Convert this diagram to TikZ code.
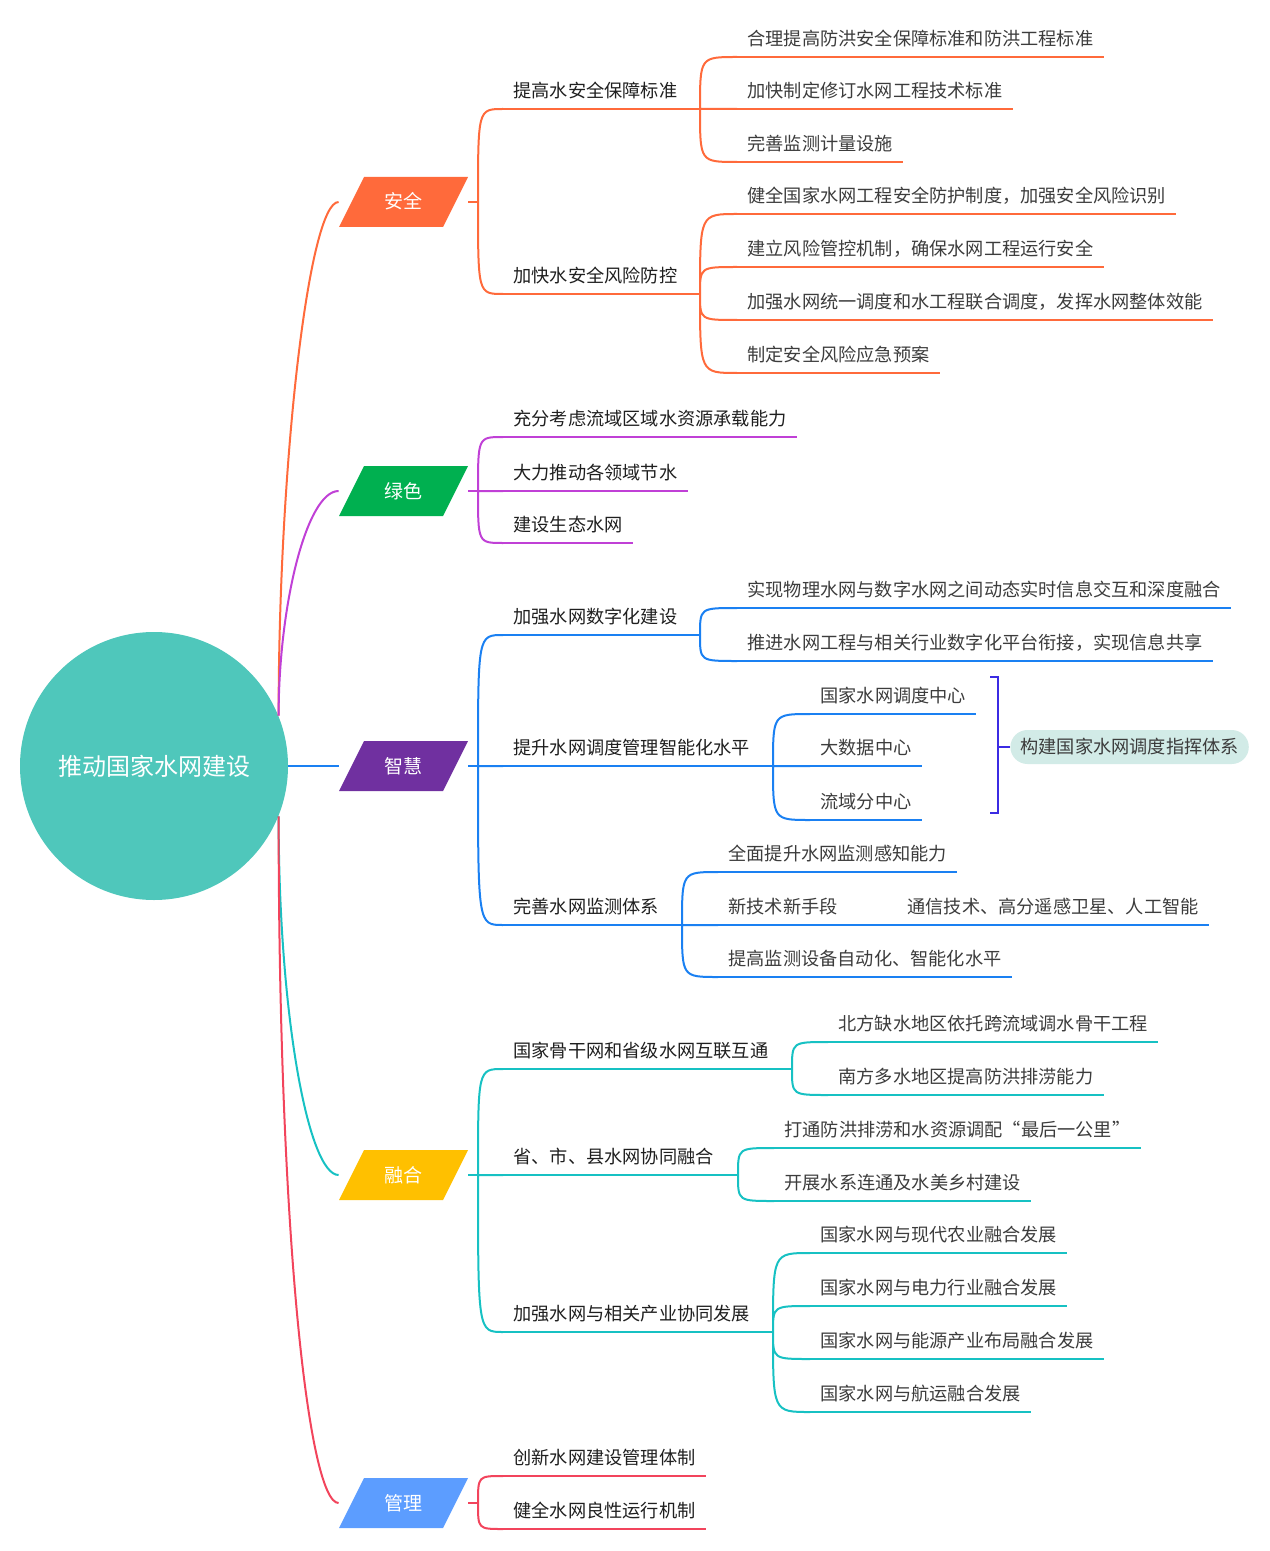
\documentclass[tikz,border=0pt]{standalone}
\usepackage{fontspec}
\setmainfont{Noto Sans CJK SC}

\definecolor{rootcol}{HTML}{4FC7BB}
\definecolor{aqcol}{HTML}{FF6A3B}
\definecolor{lsfill}{HTML}{00B050}
\definecolor{lsline}{HTML}{C040D6}
\definecolor{zhfill}{HTML}{7030A0}
\definecolor{zhline}{HTML}{1A80F2}
\definecolor{rhfill}{HTML}{FFC000}
\definecolor{rhline}{HTML}{17C1C3}
\definecolor{glfill}{HTML}{5C9DFF}
\definecolor{glline}{HTML}{F2445C}
\definecolor{brkcol}{HTML}{3B2BE3}
\definecolor{sumcol}{HTML}{D2EBE7}
\definecolor{leaftxt}{HTML}{3C3C3C}

\tikzset{
  root/.style={circle, fill=rootcol, minimum size=134pt, inner sep=0pt, text=white,
    text height=10pt, text depth=0.9pt, font=\fontsize{12pt}{14pt}\selectfont},
  cat/.style={minimum width=64.5pt, minimum height=25pt, inner sep=0pt, fill=white, text=white,
    text height=7.8pt, text depth=0.8pt, font=\fontsize{9.5pt}{11pt}\selectfont,
    path picture={\fill[#1] ([xshift=12.5pt]path picture bounding box.north west)
      -- (path picture bounding box.north east)
      -- ([xshift=-12.5pt]path picture bounding box.south east)
      -- (path picture bounding box.south west) -- cycle;}},
  sub/.style={anchor=south west, inner xsep=5pt, inner ysep=5.5pt, text height=7pt, text depth=0pt,
    text=black!88, font=\fontsize{9.1pt}{11pt}\selectfont},
  leaf/.style={sub, text=leaftxt},
  sumbox/.style={anchor=west, fill=sumcol, rounded corners=8.5pt, minimum height=17pt, inner xsep=5pt,
    text height=7.5pt, text depth=0.6pt, text=leaftxt, font=\fontsize{9.1pt}{11pt}\selectfont},
  link/.style={line width=1pt, to path={.. controls (\tikztostart |- \tikztotarget) .. (\tikztotarget)}},
  uline/.style={line width=1pt},
  brk/.style={line width=1pt, brkcol},
}

\begin{document}
\begin{tikzpicture}[x=0.5pt, y=-0.5pt]
\useasboundingbox (0,0) rectangle (1269,1551);

% centre and main branches
\node[root] (root) at (154,766) {推动国家水网建设};
\node[cat=aqcol] (aq) at (403.5,202) {安全};
\node[cat=lsfill] (ls) at (403.5,491) {绿色};
\node[cat=zhfill] (zh) at (403.5,766) {智慧};
\node[cat=rhfill] (rh) at (403.5,1175) {融合};
\node[cat=glfill] (gl) at (403.5,1503) {管理};

\draw[uline, aqcol] (root.22) .. controls +(0,-250) and +(-30,0) .. (aq.west);
\draw[uline, lsline] (root.22) .. controls +(0,-110) and +(-32,0) .. (ls.west);
\draw[uline, zhline] (root.east) -- (zh.west);
\draw[uline, rhline] (root.-22) .. controls +(0,200) and +(-30,0) .. (rh.west);
\draw[uline, glline] (root.-22) .. controls +(0,420) and +(-30,0) .. (gl.west);

% anquan
\coordinate (aqf) at (478,202);
\coordinate (aq1f) at (700,109);
\coordinate (aq2f) at (700,294);
\node[sub] (aq1) at (503,109) {提高水安全保障标准};
\node[sub] (aq2) at (503,294) {加快水安全风险防控};
\node[leaf] (aq11) at (737,57) {合理提高防洪安全保障标准和防洪工程标准};
\node[leaf] (aq12) at (737,109) {加快制定修订水网工程技术标准};
\node[leaf] (aq13) at (737,162) {完善监测计量设施};
\node[leaf] (aq21) at (737,214) {健全国家水网工程安全防护制度，加强安全风险识别};
\node[leaf] (aq22) at (737,267) {建立风险管控机制，确保水网工程运行安全};
\node[leaf] (aq23) at (737,320) {加强水网统一调度和水工程联合调度，发挥水网整体效能};
\node[leaf] (aq24) at (737,373) {制定安全风险应急预案};

\draw[uline, aqcol] (aq.east) -- (aqf);
\draw[link, aqcol] (aqf) to (aq1.south west) (aqf) to (aq2.south west);
\draw[uline, aqcol] (aq1.south west) -- (aq1f) (aq2.south west) -- (aq2f);
\draw[link, aqcol] (aq1f) to (aq11.south west) (aq1f) to (aq12.south west) (aq1f) to (aq13.south west);
\draw[link, aqcol] (aq2f) to (aq21.south west) (aq2f) to (aq22.south west)
  (aq2f) to (aq23.south west) (aq2f) to (aq24.south west);
\foreach \n in {aq11,aq12,aq13,aq21,aq22,aq23,aq24}
  \draw[uline, aqcol] (\n.south west) -- (\n.south east);

% lvse
\coordinate (lsf) at (478,491);
\node[sub] (ls1) at (503,437) {充分考虑流域区域水资源承载能力};
\node[sub] (ls2) at (503,491) {大力推动各领域节水};
\node[sub] (ls3) at (503,543) {建设生态水网};

\draw[uline, lsline] (ls.east) -- (lsf);
\draw[link, lsline] (lsf) to (ls1.south west) (lsf) to (ls2.south west) (lsf) to (ls3.south west);
\foreach \n in {ls1,ls2,ls3}
  \draw[uline, lsline] (\n.south west) -- (\n.south east);

% zhihui
\coordinate (zhf) at (478,766);
\coordinate (zh1f) at (700,635);
\coordinate (zh2f) at (773,766);
\coordinate (zh3f) at (682,925);
\node[sub] (zh1) at (503,635) {加强水网数字化建设};
\node[sub] (zh2) at (503,766) {提升水网调度管理智能化水平};
\node[sub] (zh3) at (503,925) {完善水网监测体系};
\node[leaf] (zh11) at (737,608) {实现物理水网与数字水网之间动态实时信息交互和深度融合};
\node[leaf] (zh12) at (737,661) {推进水网工程与相关行业数字化平台衔接，实现信息共享};
\node[leaf] (zh21) at (810,714) {国家水网调度中心};
\node[leaf] (zh22) at (810,766) {大数据中心};
\node[leaf] (zh23) at (810,820) {流域分中心};
\node[leaf] (zh31) at (718,872) {全面提升水网监测感知能力};
\node[leaf] (zh32) at (718,925) {新技术新手段};
\node[leaf] (zh321) at (897,925) {通信技术、高分遥感卫星、人工智能};
\node[leaf] (zh33) at (718,977) {提高监测设备自动化、智能化水平};
\node[sumbox] (zhsum) at (1010,747) {构建国家水网调度指挥体系};
\coordinate (bt) at (998,677);
\coordinate (bb) at (998,813);

\draw[uline, zhline] (zh.east) -- (zhf);
\draw[link, zhline] (zhf) to (zh1.south west) (zhf) to (zh2.south west) (zhf) to (zh3.south west);
\draw[uline, zhline] (zh1.south west) -- (zh1f) (zh2.south west) -- (zh2f) (zh3.south west) -- (zh3f);
\draw[link, zhline] (zh1f) to (zh11.south west) (zh1f) to (zh12.south west);
\draw[link, zhline] (zh2f) to (zh21.south west) (zh2f) to (zh22.south west) (zh2f) to (zh23.south west);
\draw[link, zhline] (zh3f) to (zh31.south west) (zh3f) to (zh32.south west) (zh3f) to (zh33.south west);
\foreach \n in {zh11,zh12,zh21,zh22,zh23,zh31,zh32,zh321,zh33}
  \draw[uline, zhline] (\n.south west) -- (\n.south east);
\draw[uline, zhline] (zh32.south east) -- (zh321.south west);
\draw[brk] ([xshift=-4pt]bt) -- (bt) -- (bb) -- ([xshift=-4pt]bb);
\draw[brk] (zhsum.west -| bt) -- (zhsum.west);

% ronghe
\coordinate (rhf) at (478,1175);
\coordinate (rh1f) at (792,1069);
\coordinate (rh2f) at (738,1175);
\coordinate (rh3f) at (773,1332);
\node[sub] (rh1) at (503,1069) {国家骨干网和省级水网互联互通};
\node[sub] (rh2) at (503,1175) {省、市、县水网协同融合};
\node[sub] (rh3) at (503,1332) {加强水网与相关产业协同发展};
\node[leaf] (rh11) at (828,1042) {北方缺水地区依托跨流域调水骨干工程};
\node[leaf] (rh12) at (828,1095) {南方多水地区提高防洪排涝能力};
\node[leaf] (rh21) at (774,1148) {打通防洪排涝和水资源调配“最后一公里”};
\node[leaf] (rh22) at (774,1201) {开展水系连通及水美乡村建设};
\node[leaf] (rh31) at (810,1253) {国家水网与现代农业融合发展};
\node[leaf] (rh32) at (810,1306) {国家水网与电力行业融合发展};
\node[leaf] (rh33) at (810,1359) {国家水网与能源产业布局融合发展};
\node[leaf] (rh34) at (810,1412) {国家水网与航运融合发展};

\draw[uline, rhline] (rh.east) -- (rhf);
\draw[link, rhline] (rhf) to (rh1.south west) (rhf) to (rh2.south west) (rhf) to (rh3.south west);
\draw[uline, rhline] (rh1.south west) -- (rh1f) (rh2.south west) -- (rh2f) (rh3.south west) -- (rh3f);
\draw[link, rhline] (rh1f) to (rh11.south west) (rh1f) to (rh12.south west);
\draw[link, rhline] (rh2f) to (rh21.south west) (rh2f) to (rh22.south west);
\draw[link, rhline] (rh3f) to (rh31.south west) (rh3f) to (rh32.south west)
  (rh3f) to (rh33.south west) (rh3f) to (rh34.south west);
\foreach \n in {rh11,rh12,rh21,rh22,rh31,rh32,rh33,rh34}
  \draw[uline, rhline] (\n.south west) -- (\n.south east);

% guanli
\coordinate (glf) at (478,1503);
\node[sub] (gl1) at (503,1476) {创新水网建设管理体制};
\node[sub] (gl2) at (503,1529) {健全水网良性运行机制};

\draw[uline, glline] (gl.east) -- (glf);
\draw[link, glline] (glf) to (gl1.south west) (glf) to (gl2.south west);
\foreach \n in {gl1,gl2}
  \draw[uline, glline] (\n.south west) -- (\n.south east);
\end{tikzpicture}
\end{document}
